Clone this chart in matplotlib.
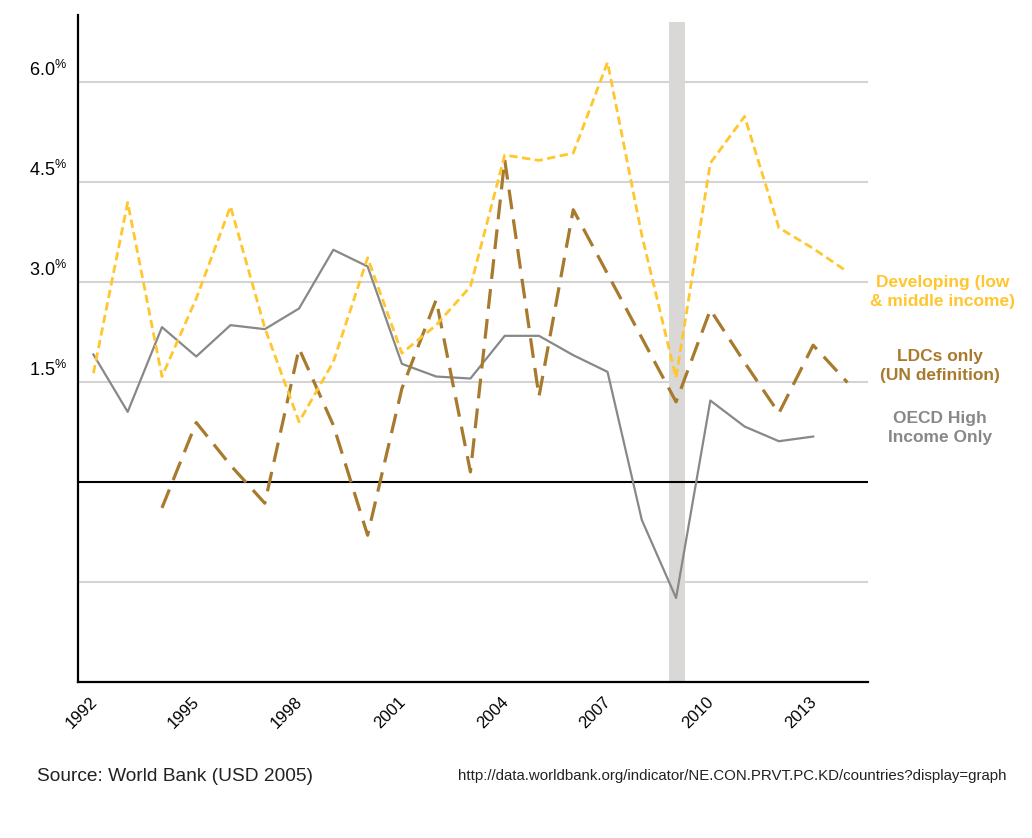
import matplotlib
matplotlib.use("Agg")
import matplotlib.pyplot as plt
from matplotlib.transforms import ScaledTranslation

plt.rcParams['font.family'] = ['Liberation Sans', 'DejaVu Sans']
plt.rcParams['mathtext.fontset'] = 'custom'
plt.rcParams['mathtext.rm'] = 'Liberation Sans'
plt.rcParams['mathtext.it'] = 'Liberation Sans'

years = list(range(1992, 2015))
oecd = [1.91, 1.05, 2.32, 1.88, 2.35, 2.29, 2.60, 3.48, 3.23, 1.77, 1.58, 1.55,
        2.19, 2.19, 1.90, 1.65, -0.57, -1.74, 1.22, 0.83, 0.61, 0.68, None]
developing = [1.63, 4.19, 1.58, 2.75, 4.13, 2.31, 0.90, 1.80, 3.36, 1.93, 2.35, 2.93,
              4.90, 4.82, 4.93, 6.29, 3.70, 1.56, 4.78, 5.48, 3.81, 3.50, 3.15]
ldcs = [None, None, -0.39, 0.89, 0.25, -0.32, 2.00, 0.85, -0.80, 1.40, 2.73, 0.15,
        4.83, 1.28, 4.08, 3.12, 2.16, 1.20, 2.58, 1.79, 1.03, 2.05, 1.49]

ytick_vals = [1.5, 3.0, 4.5, 6.0]
ytick_labels = ["1.5", "3.0", "4.5", "6.0"]
grid_vals = [-1.5, 1.5, 3.0, 4.5, 6.0]
xtick_vals = [1992, 1995, 1998, 2001, 2004, 2007, 2010, 2013]
recession = (2008.8, 2009.25)

series_labels = ["Developing (low\n& middle income)", "LDCs only\n(UN definition)", "OECD High\nIncome Only"]

c_dev = "#FFC62E"
c_ldc = "#A87A2E"
c_oecd = "#888888"

fig = plt.figure(figsize=(10.32, 8.38), dpi=100)
ax = fig.add_axes([78/1032, 1-682/838, (868-78)/1032, (682-15)/838])
ax.set_xlim(1991.55, 2014.6)
ax.set_ylim(-3.0, 7.0)

ax.axvspan(recession[0], recession[1], ymin=0, ymax=(6.9+3)/10, color="#DAD8D6", lw=0, zorder=1)
for g in grid_vals:
    ax.axhline(g, color="#D3D3D3", lw=1.5, zorder=0)
ax.axhline(0, color="black", lw=1.5, zorder=2)

def seg(xs, ys):
    px = [x for x, y in zip(xs, ys) if y is not None]
    py = [y for y in ys if y is not None]
    return px, py

x, y = seg(years, oecd)
ax.plot(x, y, color=c_oecd, lw=1.6, zorder=3)
x, y = seg(years, ldcs)
ax.plot(x, y, color=c_ldc, lw=2.3, dashes=(6.2, 3.2), zorder=4)
x, y = seg(years, developing)
ax.plot(x, y, color=c_dev, lw=2.0, dashes=(3.0, 1.6), zorder=5)

for s in ["top", "right"]:
    ax.spines[s].set_visible(False)
for s in ["left", "bottom"]:
    ax.spines[s].set_linewidth(1.6)
    ax.spines[s].set_color("black")

ax.set_yticks(ytick_vals)
ax.set_yticklabels([lab + r"$^{\%}$" for lab in ytick_labels], fontsize=13)
ax.tick_params(axis="y", length=0, pad=8)
for lab in ax.get_yticklabels():
    lab.set_transform(lab.get_transform() + ScaledTranslation(0, 10/72, fig.dpi_scale_trans))

ax.set_xticks(xtick_vals)
ax.set_xticklabels([str(v) for v in xtick_vals], rotation=45, ha="right", va="top",
                   rotation_mode="anchor", fontsize=12)
ax.tick_params(axis="x", length=0, pad=9)
for lab in ax.get_xticklabels():
    lab.set_transform(lab.get_transform() + ScaledTranslation(-3/72, 0, fig.dpi_scale_trans))

fig.text(943/1032, 1-292/838, series_labels[0], color=c_dev, fontsize=12.5, fontweight="bold",
         ha="center", va="center", linespacing=1.4)
fig.text(940/1032, 1-366/838, series_labels[1], color=c_ldc, fontsize=12.5, fontweight="bold",
         ha="center", va="center", linespacing=1.4)
fig.text(940/1032, 1-428/838, series_labels[2], color=c_oecd, fontsize=12.5, fontweight="bold",
         ha="center", va="center", linespacing=1.4)

fig.text(37/1032, 1-776/838, "Source: World Bank (USD 2005)", fontsize=13.8, color="#222222",
         ha="left", va="center")
fig.text(458/1032, 1-776/838, "http://data.worldbank.org/indicator/NE.CON.PRVT.PC.KD/countries?display=graph",
         fontsize=10.8, color="#222222", ha="left", va="center")

fig.savefig("out.png", dpi=100, facecolor="white")
